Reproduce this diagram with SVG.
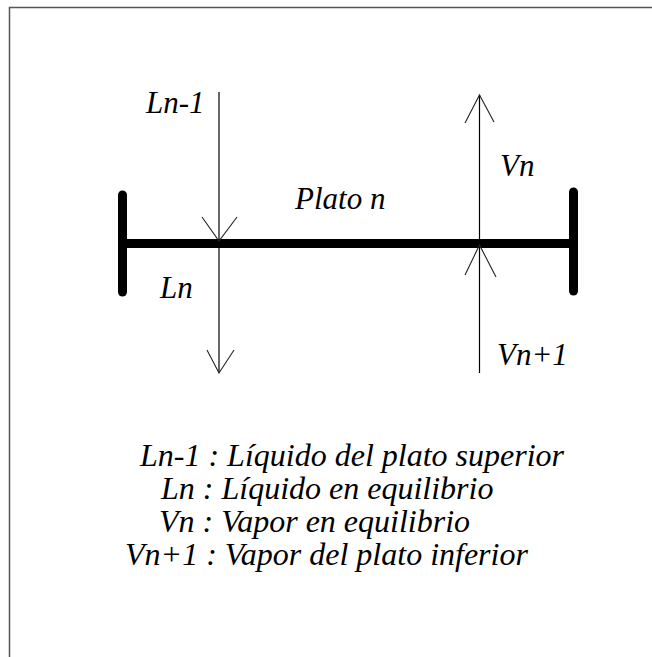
<svg xmlns="http://www.w3.org/2000/svg" width="652" height="657" viewBox="0 0 652 657">
  <style>
    .bar { stroke: #000; stroke-width: 9; stroke-linecap: round; fill: none; }
    .flow { stroke: #000; stroke-width: 1.2; fill: none; }
    .wing { stroke: #222; stroke-width: 1.1; fill: none; }
    .frame { stroke: #555; stroke-width: 1.5; fill: none; }
    text { font-family: 'Liberation Serif', serif; font-style: italic; fill: #000; }
  </style>
  <rect x="0" y="0" width="652" height="657" fill="#fff"/>
  <polyline class="frame" points="9.5,657 9.5,7.5 652,7.5"/>

  <g id="plato">
    <line class="bar" x1="122.5" y1="195" x2="122.5" y2="292"/>
    <line class="bar" x1="573.5" y1="192" x2="573.5" y2="291"/>
    <line class="bar" x1="122.5" y1="243.5" x2="573.5" y2="243.5"/>
    <text id="plato-label" x="295" y="209" font-family="Liberation Serif" font-style="italic" font-size="31" style="font-family:'Liberation Serif',serif;font-style:italic;font-size:31px">Plato n</text>
  </g>

  <g id="connectors">
    <g id="flow-Ln">
      <line class="flow" x1="219" y1="92" x2="219" y2="373"/>
      <polyline class="wing" points="202,217 219,241 237,217"/>
      <polyline class="wing" points="207,350 219,373 234,350"/>
    </g>
    <g id="flow-Vn">
      <line class="flow" x1="479.5" y1="95" x2="479.5" y2="373"/>
      <polyline class="wing" points="465,123 479.5,95 494,122"/>
      <polyline class="wing" points="465,275 479.5,245 496,277"/>
    </g>
  </g>

  <g id="label-Ln-1"><text x="146" y="113" font-family="Liberation Serif" font-style="italic" font-size="31" style="font-family:'Liberation Serif',serif;font-style:italic;font-size:31px">Ln-1</text></g>
  <g id="label-Ln"><text x="160" y="298" font-family="Liberation Serif" font-style="italic" font-size="31" style="font-family:'Liberation Serif',serif;font-style:italic;font-size:31px">Ln</text></g>
  <g id="label-Vn"><text x="500" y="176" font-family="Liberation Serif" font-style="italic" font-size="31" style="font-family:'Liberation Serif',serif;font-style:italic;font-size:31px">Vn</text></g>
  <g id="label-Vn1"><text x="497" y="365" font-family="Liberation Serif" font-style="italic" font-size="31" style="font-family:'Liberation Serif',serif;font-style:italic;font-size:31px">Vn+1</text></g>

  <g id="legend">
    <text x="140" y="466" font-family="Liberation Serif" font-style="italic" font-size="32" style="font-family:'Liberation Serif',serif;font-style:italic;font-size:32px">Ln-1 : Líquido del plato superior</text>
    <text x="161" y="499" font-family="Liberation Serif" font-style="italic" font-size="32" style="font-family:'Liberation Serif',serif;font-style:italic;font-size:32px">Ln : Líquido en equilibrio</text>
    <text x="159" y="532" font-family="Liberation Serif" font-style="italic" font-size="32" style="font-family:'Liberation Serif',serif;font-style:italic;font-size:32px">Vn : Vapor en equilibrio</text>
    <text x="125" y="565" font-family="Liberation Serif" font-style="italic" font-size="32" style="font-family:'Liberation Serif',serif;font-style:italic;font-size:32px">Vn+1 : Vapor del plato inferior</text>
  </g>
</svg>
